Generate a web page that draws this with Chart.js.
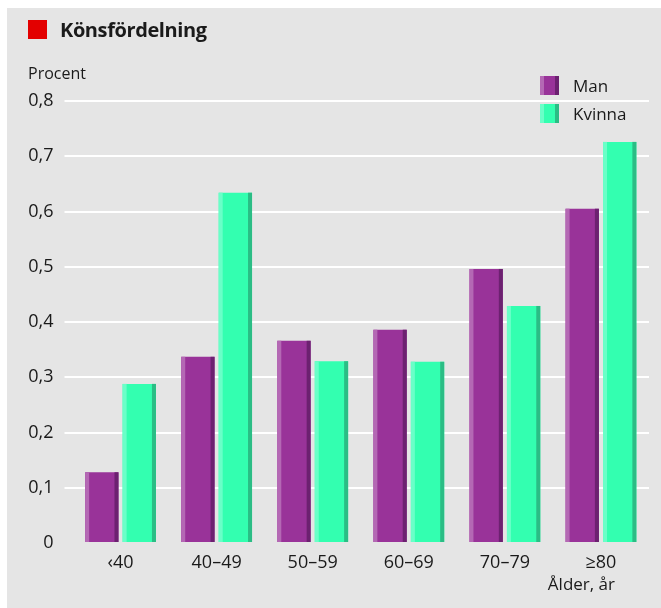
<!DOCTYPE html>
<html lang="sv">
<head>
  <meta charset="UTF-8" />
  <title>Könsfördelning</title>
  <script src="https://cdn.jsdelivr.net/npm/chart.js"></script>
  <style>
    html,body{margin:0;padding:0;background:#fff;}
    body{width:661px;height:608px;position:relative;overflow:hidden;font-family:"Open Sans",sans-serif;color:#1a1a1a;}
    .panel{position:absolute;left:7px;top:8px;width:654px;height:600px;background:#e5e5e5;}
    .panel canvas{position:absolute;left:0;top:0;}
    .title{position:absolute;left:53px;top:8px;font-size:20px;font-weight:700;line-height:28px;letter-spacing:-0.4px;}
    .title-mark{position:absolute;left:21px;top:12px;width:19px;height:19px;background:#e30000;}
    .ylabel{position:absolute;left:21px;top:54px;font-size:16px;line-height:22px;}
    .xlabel{position:absolute;right:46px;top:565px;font-size:17px;line-height:22px;}
    .legend{position:absolute;left:533px;top:68px;font-size:17px;}
    .legend div{height:28px;line-height:19px;display:flex;align-items:flex-start;}
    .legend span.box{display:inline-block;width:19px;height:19px;margin-right:14px;}
  </style>
</head>
<body>
<div class="panel">
  <canvas id="chart" width="654" height="600"></canvas>
  <div class="title-mark"></div>
  <div class="title">Könsfördelning</div>
  <div class="ylabel">Procent</div>
  <div class="xlabel">Ålder, år</div>
  <div class="legend" id="legend"></div>
</div>

<script>
// ── data ──────────────────────────────────────────────────────
const categories = ['‹40', '40–49', '50–59', '60–69', '70–79', '≥80'];
const manValues    = [0.128, 0.337, 0.366, 0.386, 0.496, 0.605];
const kvinnaValues = [0.288, 0.634, 0.329, 0.328, 0.429, 0.726];
const yTicks = [0, 0.1, 0.2, 0.3, 0.4, 0.5, 0.6, 0.7, 0.8];

// main / light edge / dark edge
const manColors    = ['#993399', '#b468b4', '#6c2170'];
const kvinnaColors = ['#33ffb0', '#6affc8', '#2bbd85'];

const FONT = '"Open Sans", sans-serif';
const STRIP = 4;

// legend (html, boxes share the bar's shaded edges)
function boxStyle(c){
  return `background:linear-gradient(to right,${c[1]} 0,${c[1]} ${STRIP}px,${c[0]} ${STRIP}px,${c[0]} ${19-STRIP}px,${c[2]} ${19-STRIP}px)`;
}
document.getElementById('legend').innerHTML =
  `<div><span class="box" style="${boxStyle(manColors)}"></span>Man</div>` +
  `<div><span class="box" style="${boxStyle(kvinnaColors)}"></span>Kvinna</div>`;

// draws the lighter left and darker right edge on every bar
const barEdges = {
  id: 'barEdges',
  afterDatasetsDraw(chart){
    const ctx = chart.ctx;
    chart.data.datasets.forEach((ds, i) => {
      const meta = chart.getDatasetMeta(i);
      meta.data.forEach(el => {
        const {x, y, width, base} = el.getProps(['x', 'y', 'width', 'base'], true);
        const left = x - width / 2;
        ctx.save();
        ctx.fillStyle = ds.edgeColors[0];
        ctx.fillRect(left, y, STRIP, base - y);
        ctx.fillStyle = ds.edgeColors[1];
        ctx.fillRect(left + width - STRIP, y, STRIP, base - y);
        ctx.restore();
      });
    });
  }
};

new Chart(document.getElementById('chart'), {
  type: 'bar',
  data: {
    labels: categories,
    datasets: [
      {label: 'Man', data: manValues, backgroundColor: manColors[0], edgeColors: [manColors[1], manColors[2]]},
      {label: 'Kvinna', data: kvinnaValues, backgroundColor: kvinnaColors[0], edgeColors: [kvinnaColors[1], kvinnaColors[2]]}
    ]
  },
  options: {
    responsive: false,
    animation: false,
    events: [],
    categoryPercentage: 0.78,
    barPercentage: 0.89,
    layout: {padding: {top: 93, right: 12, left: 0, bottom: 0}},
    plugins: {legend: {display: false}, tooltip: {enabled: false}},
    scales: {
      x: {
        border: {display: false},
        grid: {display: false, drawTicks: false},
        ticks: {color: '#1a1a1a', font: {family: FONT, size: 18}, padding: 9, maxRotation: 0},
        afterFit(scale){ scale.height = 65; }
      },
      y: {
        min: 0, max: 0.8,
        border: {display: false},
        afterBuildTicks(scale){ scale.ticks = yTicks.map(v => ({value: v})); },
        grid: {
          color: c => c.tick && c.tick.value === 0 ? 'rgba(0,0,0,0)' : '#ffffff',
          lineWidth: 2,
          drawTicks: true,
          tickLength: 8
        },
        ticks: {
          color: '#1a1a1a',
          font: {family: FONT, size: 18},
          padding: 11,
          callback: v => String(Math.round(v * 10) / 10).replace('.', ',')
        },
        afterFit(scale){ scale.width = 65.5; }
      }
    }
  },
  plugins: [barEdges]
});
</script>
</body>
</html>
